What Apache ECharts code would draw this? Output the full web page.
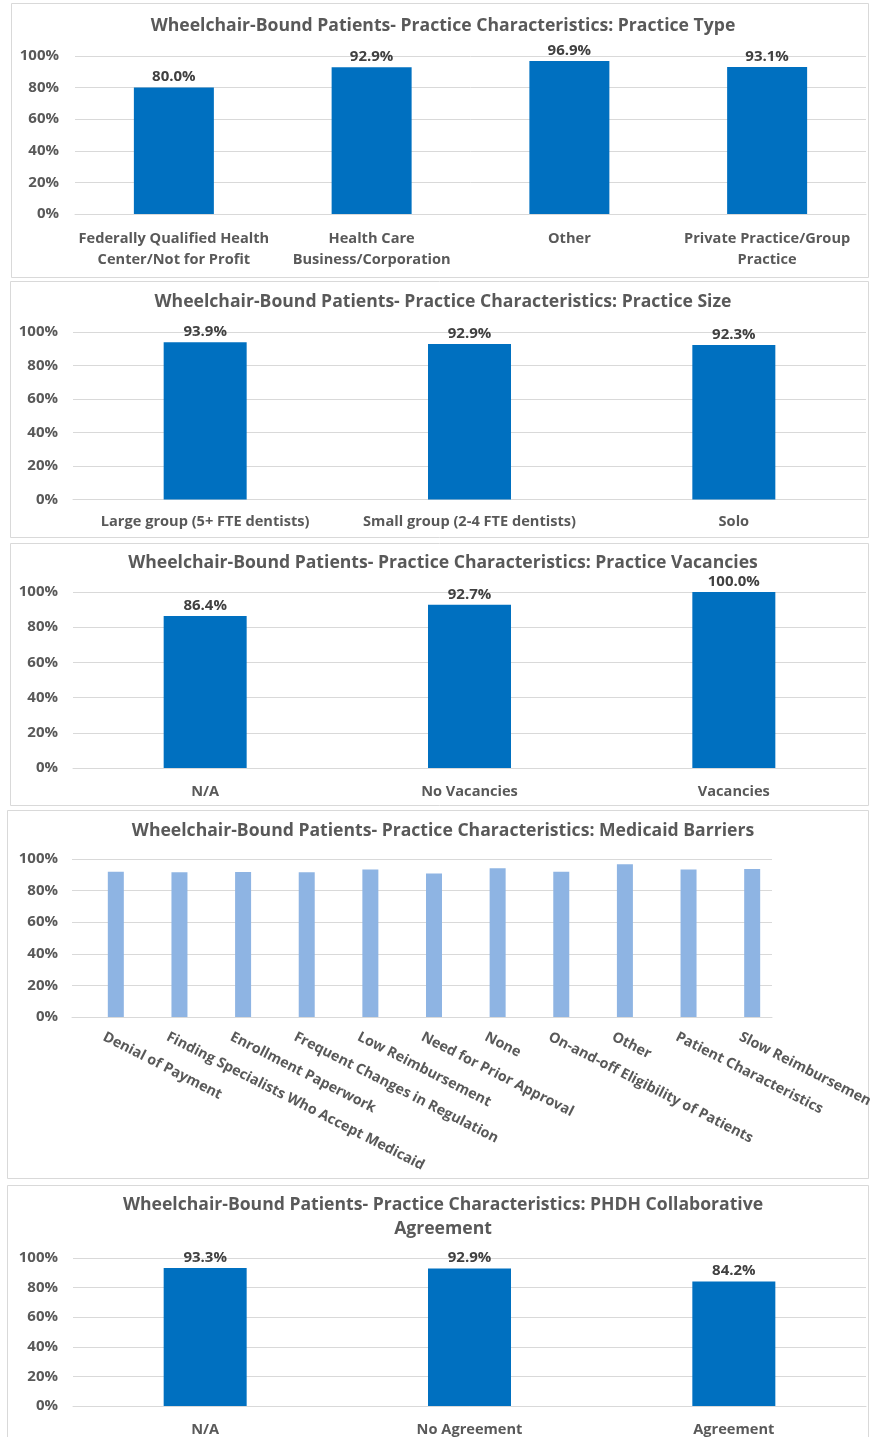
<!DOCTYPE html>
<html>
<head>
<meta charset="utf-8">
<script src="https://cdn.jsdelivr.net/npm/echarts@6/dist/echarts.min.js"></script>
<style>
  html, body { margin: 0; padding: 0; background: #ffffff; }
  #chart { width: 870px; height: 1437px; }
</style>
</head>
<body>
<div id="chart"></div>
<script>
// ---- Data ----
const titles = [
  'Wheelchair-Bound Patients- Practice Characteristics: Practice Type',
  'Wheelchair-Bound Patients- Practice Characteristics: Practice Size',
  'Wheelchair-Bound Patients- Practice Characteristics: Practice Vacancies',
  'Wheelchair-Bound Patients- Practice Characteristics: Medicaid Barriers',
  'Wheelchair-Bound Patients- Practice Characteristics: PHDH Collaborative\nAgreement'
];
const typeCats = ['Federally Qualified Health\nCenter/Not for Profit', 'Health Care\nBusiness/Corporation', 'Other', 'Private Practice/Group\nPractice'];
const typeVals = [80.0, 92.9, 96.9, 93.1];
const sizeCats = ['Large group (5+ FTE dentists)', 'Small group (2-4 FTE dentists)', 'Solo'];
const sizeVals = [93.9, 92.9, 92.3];
const vacCats = ['N/A', 'No Vacancies', 'Vacancies'];
const vacVals = [86.4, 92.7, 100.0];
const medCats = ['Denial of Payment', 'Finding Specialists Who Accept Medicaid', 'Enrollment Paperwork', 'Frequent Changes in Regulation', 'Low Reimbursement', 'Need for Prior Approval', 'None', 'On-and-off Eligibility of Patients', 'Other', 'Patient Characteristics', 'Slow Reimbursement'];
const medVals = [92.0, 91.6, 91.8, 91.6, 93.3, 90.9, 94.1, 92.0, 96.6, 93.3, 93.7];
const agrCats = ['N/A', 'No Agreement', 'Agreement'];
const agrVals = [93.3, 92.9, 84.2];
const yTicks = [0, 20, 40, 60, 80, 100];

// ---- Styling helpers ----
const FONT = '"Open Sans", Lato, sans-serif';
const GRAY = '#595959';
const DARK = '#0070C0';
const LIGHT = '#8EB4E3';

const panels = [
  { box: [11, 3, 857, 274],  grid: { left: 75, right: 4, top: 56, height: 158 }, titleY: [26], barWidth: 80, margin: 14, ym: 16 },
  { box: [10, 281, 858, 256], grid: { left: 73, right: 4, top: 332, height: 167.5 }, titleY: [302], barWidth: 83, margin: 12, ym: 15 },
  { box: [10, 543, 858, 262], grid: { left: 73, right: 4, top: 592, height: 176 }, titleY: [563], barWidth: 83, margin: 13, ym: 15 },
  { box: [7, 810, 861, 368],  grid: { left: 72, width: 700, top: 859, height: 158 }, titleY: [831], barWidth: 16, margin: 19, ym: 14 },
  { box: [7, 1185, 861, 260], grid: { left: 73, right: 4, top: 1258, height: 148 }, titleY: [1205, 1229], barWidth: 83, margin: 13, ym: 15 }
];
const catsList = [typeCats, sizeCats, vacCats, medCats, agrCats];
const valsList = [typeVals, sizeVals, vacVals, medVals, agrVals];

const grids = [], xAxes = [], yAxes = [], series = [], graphics = [];

panels.forEach((p, i) => {
  graphics.push({
    type: 'rect', silent: true, z: -10,
    shape: { x: p.box[0] + 0.5, y: p.box[1] + 0.5, width: p.box[2], height: p.box[3] },
    style: { fill: '#ffffff', stroke: '#d9d9d9', lineWidth: 1 }
  });
  const lines = titles[i].split('\n');
  lines.forEach((t, k) => {
    graphics.push({
      type: 'text', silent: true,
      x: 443, y: p.titleY[k],
      style: { text: t, align: 'center', verticalAlign: 'middle', fontSize: 17.6, fontWeight: 'bold', fontFamily: FONT, fill: GRAY }
    });
  });
  grids.push(Object.assign({ containLabel: false, outerBoundsMode: 'none' }, p.grid));
  const isMed = i === 3;
  xAxes.push({
    type: 'category', gridIndex: i, data: catsList[i],
    axisTick: { show: false },
    axisLine: { lineStyle: { color: '#d9d9d9', width: 1 } },
    axisLabel: {
      interval: 0, color: GRAY, fontWeight: 'bold', fontSize: isMed ? 14.3 : 14.6, fontFamily: FONT,
      margin: p.margin, lineHeight: 21,
      rotate: isMed ? -27 : 0
    }
  });
  yAxes.push({
    type: 'value', gridIndex: i, min: yTicks[0], max: yTicks[yTicks.length - 1], interval: 20,
    axisLine: { show: false }, axisTick: { show: false },
    splitLine: { lineStyle: { color: '#d9d9d9', width: 1 } },
    axisLabel: { formatter: '{value}%', color: GRAY, fontWeight: 'bold', fontSize: 15, fontFamily: FONT, margin: p.ym }
  });
  if (isMed) {
    // blank first series (as in the source workbook), visible series second
    series.push({
      type: 'bar', xAxisIndex: i, yAxisIndex: i, barWidth: p.barWidth, barGap: '50%',
      data: catsList[i].map(() => null), silent: true
    });
    series.push({
      type: 'bar', xAxisIndex: i, yAxisIndex: i, barWidth: p.barWidth, barGap: '50%',
      data: valsList[i], itemStyle: { color: LIGHT }, silent: true
    });
  } else {
    series.push({
      type: 'bar', xAxisIndex: i, yAxisIndex: i, barWidth: p.barWidth,
      data: valsList[i], itemStyle: { color: DARK }, silent: true,
      label: {
        show: true, position: 'top', distance: 3,
        formatter: (d) => d.value.toFixed(1) + '%',
        color: '#404040', fontWeight: 'bold', fontSize: 15, fontFamily: FONT
      }
    });
  }
});

const chart = echarts.init(document.getElementById('chart'), null, { renderer: 'canvas' });
chart.setOption({
  animation: false,
  backgroundColor: '#ffffff',
  grid: grids,
  xAxis: xAxes,
  yAxis: yAxes,
  series: series,
  graphic: graphics
});
</script>
</body>
</html>
